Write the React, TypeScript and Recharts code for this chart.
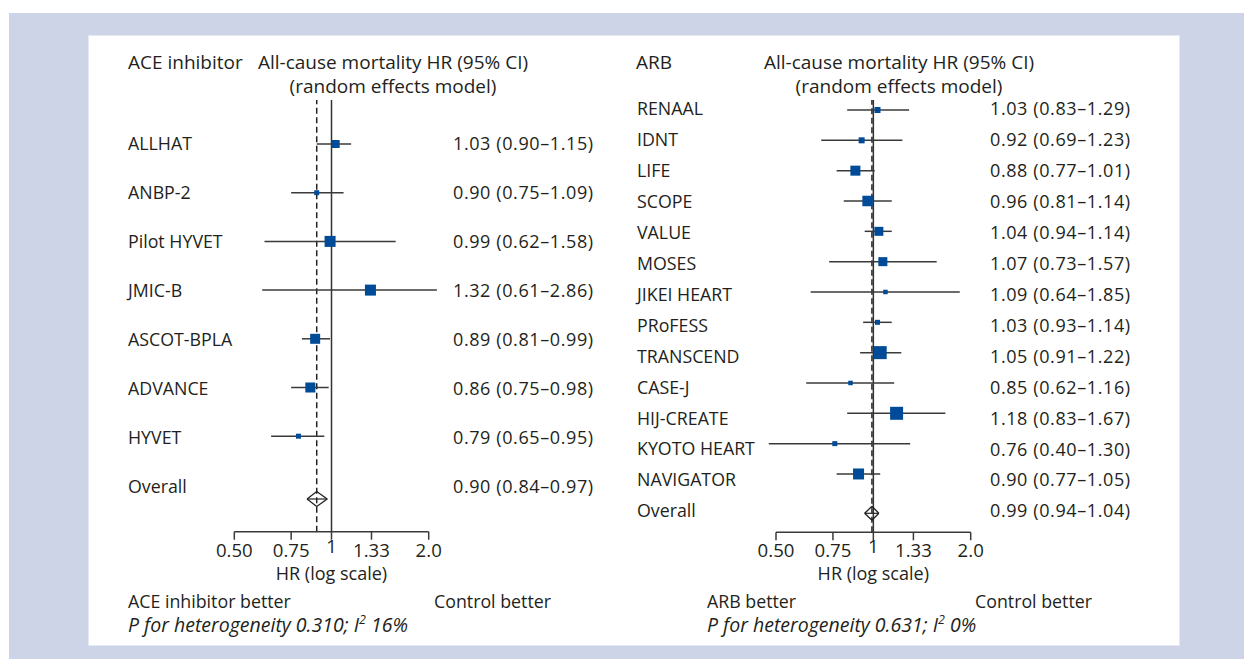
import React from 'react';
import { ScatterChart, Scatter, XAxis, YAxis, ReferenceLine } from 'recharts';

// ---------- DATA ----------
const aceStudies = ['ALLHAT', 'ANBP-2', 'Pilot HYVET', 'JMIC-B', 'ASCOT-BPLA', 'ADVANCE', 'HYVET'];
const aceHR = [1.03, 0.9, 0.99, 1.32, 0.89, 0.86, 0.79];
const aceLo = [0.9, 0.75, 0.62, 0.61, 0.81, 0.75, 0.65];
const aceHi = [1.15, 1.09, 1.58, 2.86, 0.99, 0.98, 0.95];
const aceWeight = [8, 5, 11, 11, 10, 10, 5];
const aceOverall = [0.9, 0.84, 0.97];

const arbStudies = ['RENAAL', 'IDNT', 'LIFE', 'SCOPE', 'VALUE', 'MOSES', 'JIKEI HEART', 'PRoFESS', 'TRANSCEND', 'CASE-J', 'HIJ-CREATE', 'KYOTO HEART', 'NAVIGATOR'];
const arbHR = [1.03, 0.92, 0.88, 0.96, 1.04, 1.07, 1.09, 1.03, 1.05, 0.85, 1.18, 0.76, 0.9];
const arbLo = [0.83, 0.69, 0.77, 0.81, 0.94, 0.73, 0.64, 0.93, 0.91, 0.62, 0.83, 0.4, 0.77];
const arbHi = [1.29, 1.23, 1.01, 1.14, 1.14, 1.57, 1.85, 1.14, 1.22, 1.16, 1.67, 1.3, 1.05];
const arbWeight = [6, 6, 10, 10.5, 9, 9, 4.5, 5, 13, 4.5, 13, 5, 11];
const arbOverall = [0.99, 0.94, 1.04];

const xTicks = [0.5, 0.75, 1, 1.33, 2];
const xTickLabels = ['0.50', '0.75', '1', '1.33', '2.0'];

// ---------- STYLE ----------
const W = 1244;
const H = 659;
const FONT = "'Open Sans', 'Noto Sans', sans-serif";
const TEXT = '#231f20';
const BLUE = '#004b97';
const LINE = '#3a3a3a';
const FS = 17.8;
const HEAD_FS = 19;
const VAL_FS = 18;
const VAL_SPACING = 0.6;
const TICK_FS = 18.6;
const ITAL_FS = 19.5;
const XAXIS_H = 50;
const CLIP_LO = 0.475;
const CLIP_HI = 2.12;

const fmt = (v: number) => v.toFixed(2);

type PanelCfg = {
  studies: string[];
  hr: number[];
  lo: number[];
  hi: number[];
  weight: number[];
  overall: number[];
  plot: { left: number; right: number; top: number; bottom: number };
  labelX: number;
  valueX: number;
  labDomain: [number, number];
  mkDomain: [number, number];
  diamondRow: number;
  diamondHalf: number;
};

function ForestPanel({ cfg }: { cfg: PanelCfg }) {
  const labels = [...cfg.studies, 'Overall'];
  const hrAll = [...cfg.hr, cfg.overall[0]];
  const loAll = [...cfg.lo, cfg.overall[1]];
  const hiAll = [...cfg.hi, cfg.overall[2]];
  const textRows = labels.map((name, i) => ({
    x: 1,
    y: i,
    name,
    value: `${fmt(hrAll[i])} (${fmt(loAll[i])}–${fmt(hiAll[i])})`,
  }));
  const data = cfg.studies.map((s, i) => ({ x: cfg.hr[i], y: i, w: cfg.weight[i] }));
  const [ov, ol, oh] = cfg.overall;
  const dr = cfg.diamondRow;
  const dh = cfg.diamondHalf;

  const RowText = (p: any) => (
    <g>
      <text x={cfg.labelX} y={p.cy} dy={0.357 * FS} textAnchor="start" fontSize={FS} fontFamily={FONT} fill={TEXT}>
        {p.payload.name}
      </text>
      <text
        x={cfg.valueX}
        y={p.cy}
        dy={0.357 * VAL_FS}
        textAnchor="start"
        fontSize={VAL_FS}
        letterSpacing={VAL_SPACING}
        fontFamily={FONT}
        fill={TEXT}
      >
        {p.payload.value}
      </text>
    </g>
  );
  const XTick = (p: any) => {
    const v = p.payload.value;
    const idx = xTicks.indexOf(v);
    return (
      <text x={p.x} y={p.y + 15 + (v === 1 ? -4 : 0)} textAnchor="middle" fontSize={TICK_FS} fontFamily={FONT} fill={TEXT}>
        {xTickLabels[idx]}
      </text>
    );
  };

  const Square = (p: any) => {
    const s = p.payload.w;
    return <rect x={p.cx - s / 2} y={p.cy - s / 2} width={s} height={s} fill={BLUE} />;
  };

  return (
    <div style={{ position: 'absolute', left: 0, top: 0 }}>
      <ScatterChart
        width={W}
        height={H}
        margin={{ left: cfg.plot.left, right: W - cfg.plot.right, top: cfg.plot.top, bottom: H - cfg.plot.bottom - XAXIS_H }}
      >
        <XAxis
          type="number"
          dataKey="x"
          scale="log"
          domain={[0.5, 2]}
          ticks={xTicks}
          interval={0}
          tickSize={8}
          tickMargin={2}
          height={XAXIS_H}
          axisLine={{ stroke: LINE, strokeWidth: 1.5 }}
          tickLine={{ stroke: LINE, strokeWidth: 1.5 }}
          tick={XTick}
        />
        <YAxis yAxisId="mk" type="number" dataKey="y" domain={cfg.mkDomain} reversed hide />
        <YAxis yAxisId="lab" type="number" dataKey="y" domain={cfg.labDomain} reversed hide />
        <ReferenceLine yAxisId="mk" x={ov} stroke="#222" strokeWidth={1.5} strokeDasharray="6 3.5" ifOverflow="visible" />
        <ReferenceLine yAxisId="mk" x={1} stroke="#333" strokeWidth={1.5} ifOverflow="visible" />
        {cfg.studies.map((s, i) => (
          <ReferenceLine
            key={s}
            yAxisId="mk"
            segment={[
              { x: Math.max(cfg.lo[i], CLIP_LO), y: i },
              { x: Math.min(cfg.hi[i], CLIP_HI), y: i },
            ]}
            stroke={LINE}
            strokeWidth={1.5}
            ifOverflow="visible"
          />
        ))}
        {/* overall diamond */}
        <ReferenceLine yAxisId="mk" segment={[{ x: ol, y: dr }, { x: oh, y: dr }]} stroke="#222" strokeWidth={1.2} ifOverflow="visible" />
        <ReferenceLine yAxisId="mk" segment={[{ x: ol, y: dr }, { x: ov, y: dr - dh }]} stroke="#222" strokeWidth={1.3} ifOverflow="visible" />
        <ReferenceLine yAxisId="mk" segment={[{ x: ov, y: dr - dh }, { x: oh, y: dr }]} stroke="#222" strokeWidth={1.3} ifOverflow="visible" />
        <ReferenceLine yAxisId="mk" segment={[{ x: oh, y: dr }, { x: ov, y: dr + dh }]} stroke="#222" strokeWidth={1.3} ifOverflow="visible" />
        <ReferenceLine yAxisId="mk" segment={[{ x: ov, y: dr + dh }, { x: ol, y: dr }]} stroke="#222" strokeWidth={1.3} ifOverflow="visible" />
        <Scatter yAxisId="mk" data={data} shape={Square} isAnimationActive={false} />
        <Scatter yAxisId="lab" data={textRows} shape={RowText} isAnimationActive={false} />
      </ScatterChart>
    </div>
  );
}

const aceCfg: PanelCfg = {
  studies: aceStudies,
  hr: aceHR,
  lo: aceLo,
  hi: aceHi,
  weight: aceWeight,
  overall: aceOverall,
  plot: { left: 234.3, right: 428.7, top: 100, bottom: 531.7 },
  labelX: 128,
  valueX: 453,
  labDomain: [(100 - 143.5) / 49, (531.7 - 143.5) / 49],
  mkDomain: [(100 - 144) / 48.7, (531.7 - 144) / 48.7],
  diamondRow: (499 - 144) / 48.7,
  diamondHalf: 7.5 / 48.7,
};

const arbCfg: PanelCfg = {
  studies: arbStudies,
  hr: arbHR,
  lo: arbLo,
  hi: arbHi,
  weight: arbWeight,
  overall: arbOverall,
  plot: { left: 776, right: 970.7, top: 100, bottom: 532.3 },
  labelX: 637,
  valueX: 990,
  labDomain: [(100 - 109) / 30.92, (532.3 - 109) / 30.92],
  mkDomain: [(100 - 110) / 30.33, (532.3 - 110) / 30.33],
  diamondRow: (513.3 - 110) / 30.33,
  diamondHalf: 7 / 30.33,
};

const T = (props: any) => (
  <text fontFamily={FONT} fontSize={FS} fill={TEXT} {...props} dy={0.357 * (props.fontSize || FS)} />
);

export default function App() {
  return (
    <div style={{ position: 'absolute', left: 0, top: 0, width: W, height: H, overflow: 'hidden', background: '#fff' }}>
      <div style={{ position: 'absolute', left: 9, top: 13, width: W - 9, height: H - 13, background: '#cdd4e7' }} />
      <div style={{ position: 'absolute', left: 89, top: 36, width: 1090, height: 609, background: '#fff', boxShadow: '0 0 0 1px #e4e8f2' }} />
      <ForestPanel cfg={aceCfg} />
      <ForestPanel cfg={arbCfg} />
      <svg width={W} height={H} style={{ position: 'absolute', left: 0, top: 0, pointerEvents: 'none' }}>
        {/* left header */}
        <T x={128} y={62} fontSize={HEAD_FS}>ACE inhibitor</T>
        <T x={393} y={62} textAnchor="middle" fontSize={HEAD_FS}>All-cause mortality HR (95% CI)</T>
        <T x={393} y={86} textAnchor="middle" fontSize={HEAD_FS}>(random effects model)</T>
        <T x={331.5} y={574} textAnchor="middle" fontSize={18}>HR (log scale)</T>
        <T x={128} y={602}>ACE inhibitor better</T>
        <T x={434} y={602}>Control better</T>
        <T x={128} y={625} fontStyle="italic" fontSize={ITAL_FS}>
          P for heterogeneity 0.310; I<tspan dy={-7.5} fontSize={12.5}>2</tspan><tspan dy={7.5}> 16%</tspan>
        </T>
        {/* right header */}
        <T x={636} y={62} fontSize={HEAD_FS}>ARB</T>
        <T x={899} y={62} textAnchor="middle" fontSize={HEAD_FS}>All-cause mortality HR (95% CI)</T>
        <T x={899} y={86} textAnchor="middle" fontSize={HEAD_FS}>(random effects model)</T>
        <T x={873.3} y={574} textAnchor="middle" fontSize={18}>HR (log scale)</T>
        <T x={707} y={602}>ARB better</T>
        <T x={975} y={602}>Control better</T>
        <T x={707} y={625} fontStyle="italic" fontSize={ITAL_FS}>
          P for heterogeneity 0.631; I<tspan dy={-7.5} fontSize={12.5}>2</tspan><tspan dy={7.5}> 0%</tspan>
        </T>
      </svg>
    </div>
  );
}
